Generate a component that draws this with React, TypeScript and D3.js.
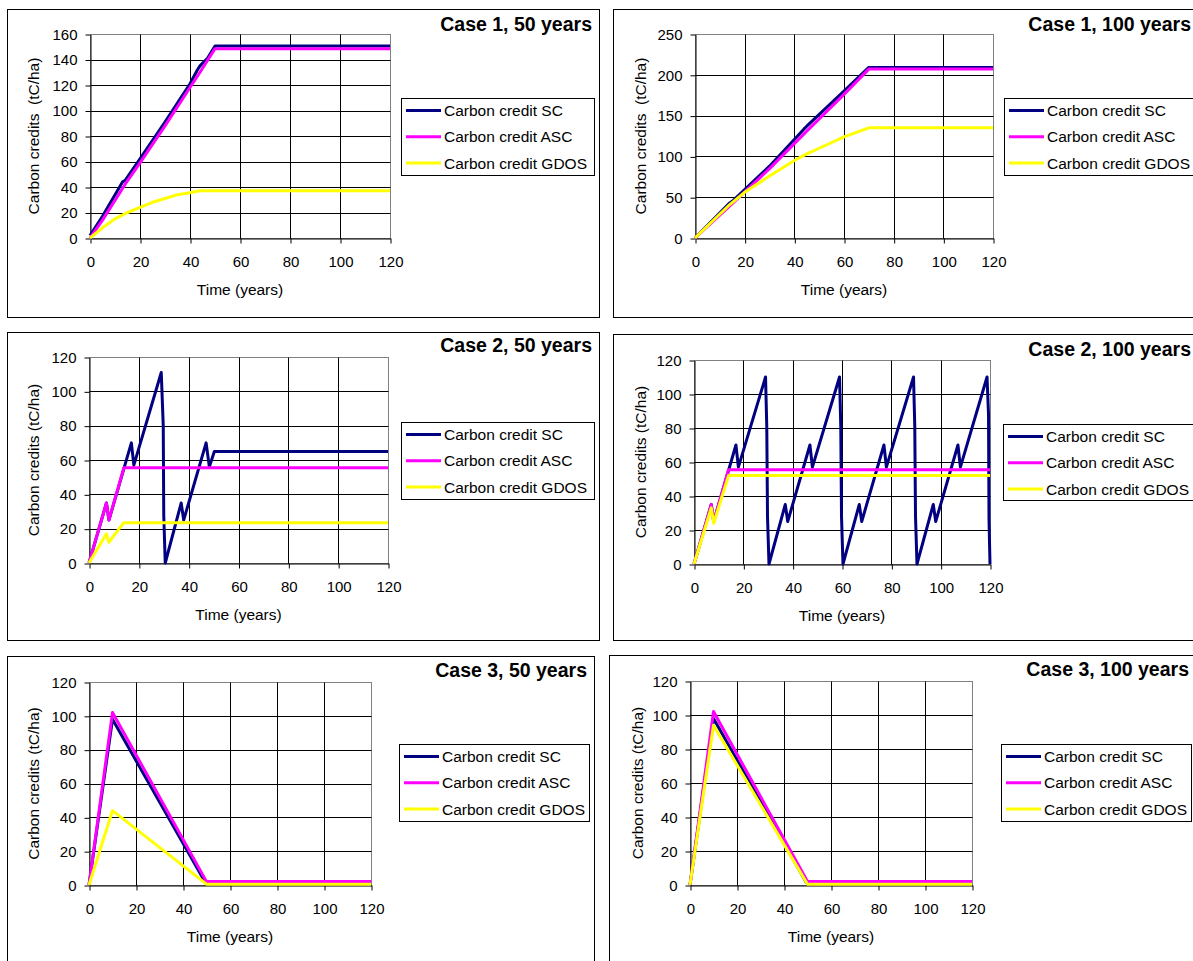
import React, { useEffect, useRef } from "react";
import * as d3 from "d3";

// tick labels
const timeTicks = [0, 20, 40, 60, 80, 100, 120];
const creditTicks160 = [0, 20, 40, 60, 80, 100, 120, 140, 160];
const creditTicks250 = [0, 50, 100, 150, 200, 250];
const creditTicks120 = [0, 20, 40, 60, 80, 100, 120];

const seriesNames = ["Carbon credit SC", "Carbon credit ASC", "Carbon credit GDOS"];
const seriesColors = ["#000080", "#ff00ff", "#ffff00"];

// Case 1, 50 years  [year, tC/ha]
const case1y50SC = [[0, 2], [5, 17], [13, 44], [14, 45], [20, 62], [30, 91], [40, 121], [43, 132], [44, 135], [47, 141], [50, 150.5], [120, 150.5]];
const case1y50ASC = [[0, 0], [5, 14], [14, 42], [20, 59], [30, 88], [40, 118], [44, 130], [50, 148.5], [120, 148.5]];
const case1y50GDOS = [[0, 0], [5, 8], [10, 15], [15, 20], [20, 24], [25, 28], [30, 31], [35, 34], [40, 35.5], [44, 37], [120, 37]];

// Case 1, 100 years
const case1y100SC = [[0, 0], [14, 43], [15, 45], [30, 88], [44, 134], [45, 137], [60, 180], [70, 209], [120, 209]];
const case1y100ASC = [[0, 0], [15, 42], [30, 85], [45, 131], [60, 176], [70, 207], [120, 207]];
const case1y100GDOS = [[0, 0], [14, 41], [20, 56], [30, 76], [40, 95], [45, 103], [50, 110], [60, 124], [70, 135], [120, 135]];

// Case 2, 50 years
const case2y50SC = [[0, 0], [7, 35], [8, 25], [14, 55], [17, 70], [18, 57], [29, 111], [29.8, 80], [30, 28], [30.6, 0], [37, 35], [38, 25], [47, 70], [48.3, 56], [50.3, 65], [120, 65]];
const case2y50ASC = [[0, 0], [7, 35], [8, 25], [14, 55.5], [120, 55.5]];
const case2y50GDOS = [[0, 0], [7, 17], [8, 12], [10, 16], [14, 23.5], [120, 23.5]];

// Case 2, 100 years
const case2y100SC = [
  [0, 0], [7, 35], [8, 25], [14, 55], [17, 70], [18, 57], [29, 110], [29.5, 81], [29.8, 28], [30.4, 0],
  [37, 35], [38, 25], [47, 70], [48, 57], [59, 110], [59.5, 81], [59.8, 28], [60.4, 0],
  [67, 35], [68, 25], [77, 70], [78, 57], [89, 110], [89.5, 81], [89.8, 28], [90.4, 0],
  [97, 35], [98, 25], [107, 70], [108, 57], [118.8, 110], [119.4, 88], [119.6, 26], [120, 0],
];
const case2y100ASC = [[0, 0], [7, 35], [8, 25], [14, 55.5], [120, 55.5]];
const case2y100GDOS = [[0, 0], [7, 33], [8, 24], [14, 52], [120, 52]];

// Case 3, 50 years
const case3y50SC = [[0, 0], [10, 98], [49.5, 1.5], [120, 1.5]];
const case3y50ASC = [[0, 0], [10, 102], [50, 2], [120, 2]];
const case3y50GDOS = [[0, 0], [10, 44], [50, 0.5], [120, 0.5]];

// Case 3, 100 years
const case3y100SC = [[0, 0], [10, 98], [49.5, 1.5], [120, 1.5]];
const case3y100ASC = [[0, 0], [10, 102], [50, 2], [120, 2]];
const case3y100GDOS = [[0, 0], [10, 94], [50, 0.5], [120, 0.5]];

const FONT = "'Liberation Sans', Arial, sans-serif";

// layout of the six panels (pixels)
const panels = [
  {
    title: "Case 1, 50 years", yTitle: "Carbon credits  (tC/ha)",
    frame: [7.5, 9.5, 592, 308], plot: [90, 390, 238, 34], yMax: 160, yTicks: creditTicks160,
    legend: [401, 98, 193, 77], titleX: 592, titleY: 31, yTitleX: 34,
    series: [case1y50SC, case1y50ASC, case1y50GDOS],
  },
  {
    title: "Case 1, 100 years", yTitle: "Carbon credits  (tC/ha)",
    frame: [613.5, 9.5, 640, 308], plot: [695, 993, 238, 34], yMax: 250, yTicks: creditTicks250,
    legend: [1004, 98, 220, 77], titleX: 1191, titleY: 31, yTitleX: 641,
    series: [case1y100SC, case1y100ASC, case1y100GDOS],
  },
  {
    title: "Case 2, 50 years", yTitle: "Carbon credits (tC/ha)",
    frame: [7.5, 332.5, 592, 308], plot: [89, 388, 563, 357], yMax: 120, yTicks: creditTicks120,
    legend: [401, 422, 193, 77], titleX: 592, titleY: 352, yTitleX: 34,
    series: [case2y50SC, case2y50ASC, case2y50GDOS],
  },
  {
    title: "Case 2, 100 years", yTitle: "Carbon credits (tC/ha)",
    frame: [613.5, 334.5, 640, 306], plot: [694, 990, 564, 360], yMax: 120, yTicks: creditTicks120,
    legend: [1003, 424, 220, 76], titleX: 1191, titleY: 356, yTitleX: 641,
    series: [case2y100SC, case2y100ASC, case2y100GDOS],
  },
  {
    title: "Case 3, 50 years", yTitle: "Carbon credits (tC/ha)",
    frame: [7.5, 656.5, 587, 340], plot: [89, 371, 885, 682], yMax: 120, yTicks: creditTicks120,
    legend: [399, 744, 190, 77], titleX: 587, titleY: 677, yTitleX: 34,
    series: [case3y50SC, case3y50ASC, case3y50GDOS],
  },
  {
    title: "Case 3, 100 years", yTitle: "Carbon credits (tC/ha)",
    frame: [609.5, 655.5, 640, 340], plot: [690, 972, 885, 681], yMax: 120, yTicks: creditTicks120,
    legend: [1001, 744, 190, 77], titleX: 1189, titleY: 676, yTitleX: 638,
    series: [case3y100SC, case3y100ASC, case3y100GDOS],
  },
];

const App = () => {
  const svgRef = useRef<SVGSVGElement>(null);

  useEffect(() => {
    const svg = d3.select(svgRef.current);
    svg.selectAll("*").remove();

    panels.forEach((p) => {
      const g = svg.append("g");
      const [fx, fy, fw, fh] = p.frame;
      g.append("rect").attr("x", fx).attr("y", fy).attr("width", fw).attr("height", fh)
        .attr("fill", "#fff").attr("stroke", "#000").attr("stroke-width", 1);

      const [px0, px1, py0, py1] = p.plot;
      const x = d3.scaleLinear().domain([0, 120]).range([px0, px1]);
      const y = d3.scaleLinear().domain([0, p.yMax]).range([py0, py1]);
      const cx = (v: number) => Math.round(x(v)) + 0.5;
      const cy = (v: number) => Math.round(y(v)) + 0.5;

      // plot area border
      g.append("rect").attr("x", cx(0)).attr("y", cy(p.yMax))
        .attr("width", cx(120) - cx(0)).attr("height", cy(0) - cy(p.yMax))
        .attr("fill", "none").attr("stroke", "#808080");

      // grid
      g.selectAll(".hg").data(p.yTicks.filter((t) => t > 0 && t < p.yMax)).join("line")
        .attr("x1", cx(0)).attr("x2", cx(120)).attr("y1", (d) => cy(d)).attr("y2", (d) => cy(d))
        .attr("stroke", "#000");
      g.selectAll(".vg").data(timeTicks.filter((t) => t > 0 && t < 120)).join("line")
        .attr("x1", (d) => cx(d)).attr("x2", (d) => cx(d)).attr("y1", cy(0)).attr("y2", cy(p.yMax))
        .attr("stroke", "#000");

      // axes
      const xa = g.append("g").attr("transform", `translate(0.5,${cy(0)})`)
        .call(d3.axisBottom(x).tickValues(timeTicks).tickSize(5).tickSizeOuter(0).tickPadding(13).tickFormat(d3.format("d")));
      const ya = g.append("g").attr("transform", `translate(${cx(0)},0.5)`)
        .call(d3.axisLeft(y).tickValues(p.yTicks).tickSize(5).tickSizeOuter(0).tickPadding(8).tickFormat(d3.format("d")));
      [xa, ya].forEach((a) => {
        a.selectAll("path,line").attr("stroke", "#000");
        a.selectAll("text").attr("font-family", FONT).attr("font-size", 15).attr("fill", "#000");
      });

      // series
      const line = d3.line<number[]>().x((d) => x(d[0])).y((d) => y(d[1]));
      p.series.forEach((s, i) => {
        g.append("path").attr("d", line(s as any) as string).attr("fill", "none")
          .attr("stroke", seriesColors[i]).attr("stroke-width", 3)
          .attr("stroke-linejoin", "round").attr("stroke-linecap", "butt");
      });

      // axis titles
      g.append("text").attr("x", (px0 + px1) / 2).attr("y", py0 + 57)
        .attr("text-anchor", "middle").attr("font-family", FONT).attr("font-size", 15.5)
        .text("Time (years)");
      g.append("text")
        .attr("transform", `translate(${p.yTitleX},${(py0 + py1) / 2}) rotate(-90)`)
        .attr("text-anchor", "middle").attr("dy", "0.35em").attr("font-family", FONT)
        .attr("font-size", 15.5).style("white-space", "pre").text(p.yTitle);

      // chart title
      g.append("text").attr("x", p.titleX).attr("y", p.titleY).attr("text-anchor", "end")
        .attr("font-family", FONT).attr("font-weight", "bold").attr("font-size", 19.5)
        .text(p.title);

      // legend
      const [lx, ly, lw, lh] = p.legend;
      g.append("rect").attr("x", Math.round(lx) + 0.5).attr("y", Math.round(ly) + 0.5)
        .attr("width", lw).attr("height", lh).attr("fill", "#fff").attr("stroke", "#000");
      seriesNames.forEach((name, i) => {
        const yy = ly + 12.5 + i * 26.3;
        g.append("line").attr("x1", lx + 5).attr("x2", lx + 40).attr("y1", yy).attr("y2", yy)
          .attr("stroke", seriesColors[i]).attr("stroke-width", 3);
        g.append("text").attr("x", lx + 43).attr("y", yy).attr("dy", "0.36em")
          .attr("font-family", FONT).attr("font-size", 15.5).text(name);
      });
    });
  }, []);

  return (
    <svg
      ref={svgRef}
      width={1193}
      height={961}
      style={{ position: "absolute", left: 0, top: 0, background: "#fff" }}
    />
  );
};

export default App;
